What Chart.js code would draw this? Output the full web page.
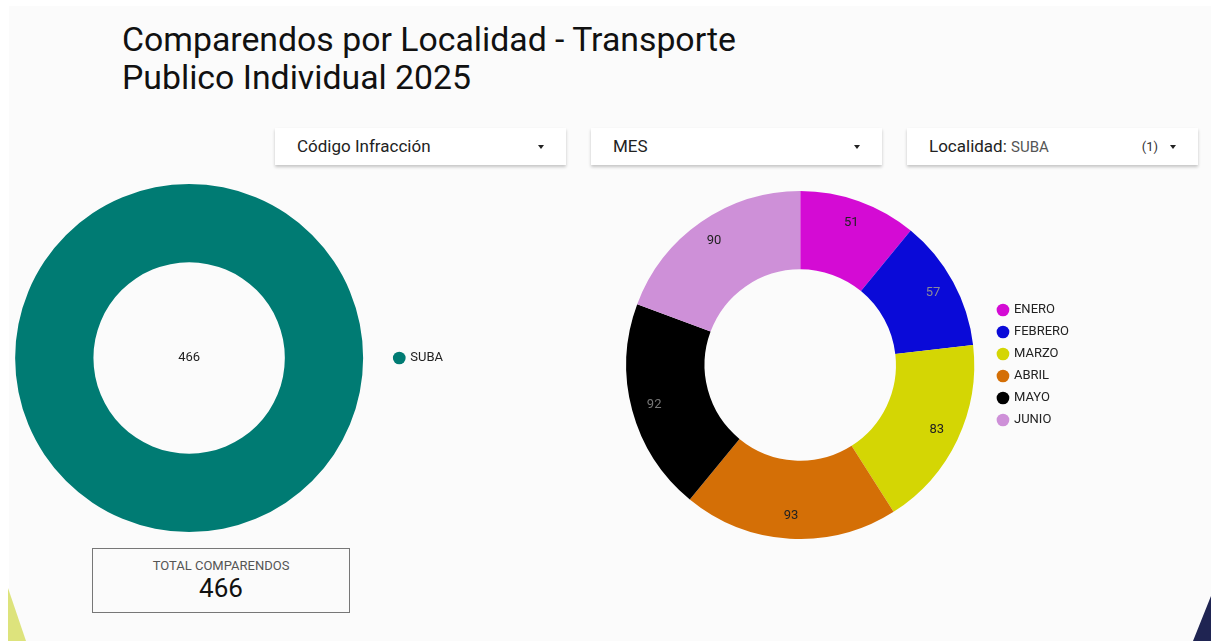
<!DOCTYPE html>
<html>
<head>
<meta charset="utf-8">
<script src="https://cdn.jsdelivr.net/npm/chart.js@4.4.1/dist/chart.umd.min.js"></script>
<style>
  body { margin: 0; background: #fff; font-family: Roboto, sans-serif; }
  #page { position: relative; width: 1211px; height: 641px; overflow: hidden; background: #fff; }
  #panel { position: absolute; left: 9px; top: 6px; right: 0; bottom: 0; background: #fbfbfb; }
  h1 { position: absolute; left: 122px; top: 21px; margin: 0; font-weight: 400; font-size: 33.8px; line-height: 38px; color: #111; }
  .dd { position: absolute; top: 128px; height: 37px; width: 291px; background: #fff;
        box-shadow: 0 2px 3px rgba(0,0,0,0.22); font-size: 17px; color: #222; line-height: 37px; }
  .dd span.lbl { position: absolute; left: 22px; }
  .dd .arrow { position: absolute; right: 22px; top: 17px; width: 0; height: 0;
        border-left: 3.5px solid transparent; border-right: 3.5px solid transparent; border-top: 4px solid #222; }
  .dd .sub { font-size: 15px; color: #555; }
  .dd .count { position: absolute; right: 40px; font-size: 13px; color: #333; }
  .wrap { position: absolute; }
  #total { position: absolute; left: 92px; top: 548px; width: 258px; height: 65px; border: 1.5px solid #777;
           box-sizing: border-box; text-align: center; background: #fbfbfb; }
  #total .t { font-size: 13px; color: #555; margin-top: 9px; line-height: 15px; }
  #total .v { font-size: 26px; color: #111; line-height: 30px; }
  .tri { position: absolute; }
</style>
</head>
<body>
<div id="page">
  <div id="panel"></div>
  <h1>Comparendos por Localidad - Transporte<br>Publico Individual 2025</h1>

  <div class="dd" style="left:275px"><span class="lbl">Código Infracción</span><div class="arrow"></div></div>
  <div class="dd" style="left:591px"><span class="lbl">MES</span><div class="arrow"></div></div>
  <div class="dd" style="left:907px"><span class="lbl">Localidad: <span class="sub">SUBA</span></span><span class="count">(1)</span><div class="arrow"></div></div>

  <div class="wrap" style="left:5px;top:175px;width:448px;height:364px"><canvas id="locChart"></canvas></div>
  <div class="wrap" style="left:611px;top:180px;width:468px;height:370px"><canvas id="mesChart"></canvas></div>

  <div id="total"><div class="t">TOTAL COMPARENDOS</div><div class="v">466</div></div>

  <div class="tri" style="left:8px;top:588px;width:18px;height:53px;background:#dde37c;clip-path:polygon(0 0,100% 100%,0 100%)"></div>
  <div class="tri" style="left:1193px;top:596px;width:18px;height:45px;background:#1f2452;clip-path:polygon(100% 0,100% 100%,0 100%)"></div>
</div>

<script>
// Localidad chart data
const localidades = ['SUBA'];
const localidadValues = [466];
const localidadColors = ['#007b73'];

// Month chart data
const meses = ['ENERO', 'FEBRERO', 'MARZO', 'ABRIL', 'MAYO', 'JUNIO'];
const mesValues = [51, 57, 83, 93, 92, 90];
const mesColors = ['#d40bd4', '#0a0ad8', '#d4d604', '#d46f06', '#000000', '#ce90d8'];
const mesLabelColors = ['#222', '#8a8a9a', '#222', '#222', '#777', '#222'];

// Draw the value of each slice inside the ring
const sliceLabels = {
  id: 'sliceLabels',
  afterDatasetsDraw(chart, args, opts) {
    const ctx = chart.ctx;
    const meta = chart.getDatasetMeta(0);
    const values = chart.data.datasets[0].data;
    ctx.save();
    ctx.font = '13px Roboto';
    ctx.textAlign = 'center';
    ctx.textBaseline = 'middle';
    meta.data.forEach((arc, i) => {
      const p = arc.getProps(['x', 'y', 'startAngle', 'endAngle', 'innerRadius', 'outerRadius'], true);
      let x = p.x, y = p.y;
      if (meta.data.length > 1) {
        const a = (p.startAngle + p.endAngle) / 2;
        const r = p.innerRadius + 0.71 * (p.outerRadius - p.innerRadius);
        x += Math.cos(a) * r;
        y += Math.sin(a) * r;
      }
      ctx.fillStyle = (opts.colors && opts.colors[i]) || '#222';
      ctx.fillText(values[i], x, y);
    });
    ctx.restore();
  }
};

function donutOptions(padding, legendPadding, labelColors) {
  return {
    responsive: true,
    maintainAspectRatio: false,
    animation: false,
    cutout: '55%',
    layout: { padding: padding },
    plugins: {
      legend: {
        position: 'right',
        labels: {
          usePointStyle: true,
          pointStyle: 'circle',
          boxWidth: 9,
          boxHeight: 9,
          padding: legendPadding,
          color: '#222',
          font: { family: 'Roboto', size: 13 }
        }
      },
      tooltip: { enabled: false },
      sliceLabels: { colors: labelColors }
    }
  };
}

new Chart(document.getElementById('locChart'), {
  type: 'doughnut',
  data: {
    labels: localidades,
    datasets: [{ data: localidadValues, backgroundColor: localidadColors, borderWidth: 0 }]
  },
  options: donutOptions({ left: 8.5, top: 9, bottom: 7, right: 0 }, 30, ['#222']),
  plugins: [sliceLabels]
});

new Chart(document.getElementById('mesChart'), {
  type: 'doughnut',
  data: {
    labels: meses,
    datasets: [{ data: mesValues, backgroundColor: mesColors, borderWidth: 0 }]
  },
  options: donutOptions({ left: 0, top: 11, bottom: 11, right: 0 }, 9, mesLabelColors),
  plugins: [sliceLabels]
});
</script>
</body>
</html>
